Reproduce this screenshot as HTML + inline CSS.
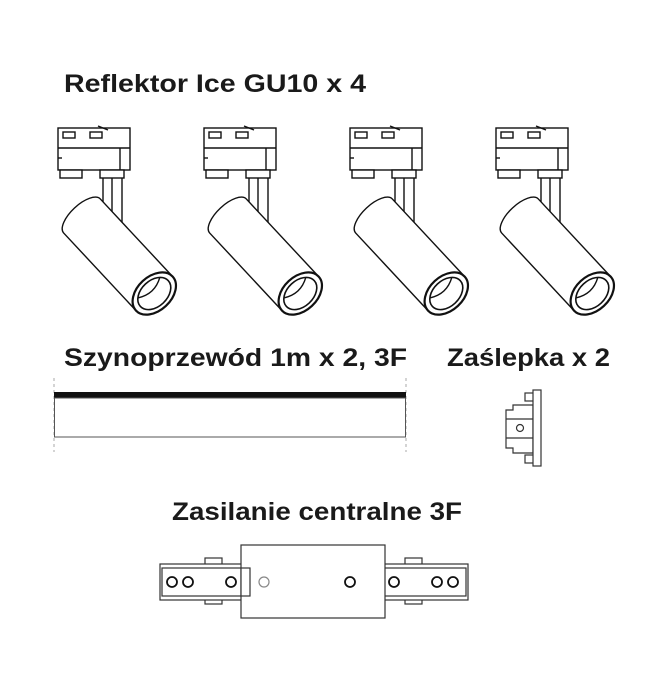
<!DOCTYPE html>
<html><head><meta charset="utf-8"><style>
html,body{margin:0;padding:0;background:#fff;}
svg{display:block;}
text{font-family:"Liberation Sans",sans-serif;font-weight:bold;fill:#1a1a1a;font-size:25px;}
</style></head><body>
<svg width="650" height="677" viewBox="0 0 650 677" xmlns="http://www.w3.org/2000/svg">
<defs>
<g id="spot" fill="#fff" stroke="#111" stroke-width="1.4">
  <rect x="103" y="176" width="19" height="52"/>
  <line x1="112" y1="176" x2="112" y2="226"/>
  <rect x="58" y="128" width="72" height="42"/>
  <line x1="58" y1="148" x2="130" y2="148"/>
  <line x1="120" y1="148" x2="120" y2="170"/>
  <line x1="58" y1="158" x2="62" y2="158"/>
  <rect x="63" y="132" width="12" height="6"/>
  <rect x="90" y="132" width="12" height="6"/>
  <line x1="98" y1="126" x2="108" y2="130"/>
  <rect x="60" y="170" width="22" height="8"/>
  <rect x="100" y="170" width="24" height="8"/>
  <g transform="translate(82,216) rotate(47)">
    <path d="M0 -25 H106 V25 H0 A11 25 0 0 1 0 -25 Z"/>
    <ellipse cx="106" cy="0" rx="17" ry="25" stroke-width="2.2"/>
    <ellipse cx="106" cy="0" rx="13" ry="19" stroke-width="1.6"/>
    <path d="M98 -15 Q107 0 98 15" fill="none"/>
  </g>
</g>
</defs>
<text x="64" y="92" textLength="302" lengthAdjust="spacingAndGlyphs">Reflektor Ice GU10 x 4</text>
<use href="#spot"/>
<use href="#spot" x="146"/>
<use href="#spot" x="292"/>
<use href="#spot" x="438"/>

<text x="64" y="366" textLength="343" lengthAdjust="spacingAndGlyphs">Szynoprzewód 1m x 2, 3F</text>
<text x="447" y="366" textLength="163" lengthAdjust="spacingAndGlyphs">Zaślepka x 2</text>
<line x1="54" y1="378" x2="54" y2="452" stroke="#aaa" stroke-dasharray="3,3"/>
<line x1="406" y1="378" x2="406" y2="452" stroke="#aaa" stroke-dasharray="3,3"/>
<rect x="54" y="392" width="352" height="6" fill="#111"/>
<rect x="54.5" y="398" width="351" height="39" fill="#fff" stroke="#555"/>
<g fill="#fff" stroke="#333" stroke-width="1.2">
  <rect x="525" y="393" width="10" height="8"/>
  <rect x="525" y="455" width="10" height="8"/>
  <path d="M506 410 H513 V405 H533 V453 H513 V448 H506 Z"/>
  <line x1="506" y1="419" x2="533" y2="419"/>
  <line x1="506" y1="438" x2="533" y2="438"/>
  <circle cx="520" cy="428" r="3.5"/>
  <rect x="533" y="390" width="8" height="76"/>
</g>
<text x="172" y="520" textLength="290" lengthAdjust="spacingAndGlyphs">Zasilanie centralne 3F</text>
<g fill="#fff" stroke="#333" stroke-width="1.2">
  <rect x="205" y="558" width="17" height="8"/>
  <rect x="205" y="596" width="17" height="8"/>
  <rect x="405" y="558" width="17" height="8"/>
  <rect x="405" y="596" width="17" height="8"/>
  <rect x="160" y="564" width="90" height="36"/>
  <rect x="162" y="568" width="86" height="28"/>
  <rect x="378" y="564" width="90" height="36"/>
  <rect x="380" y="568" width="86" height="28"/>
  <rect x="241" y="545" width="144" height="73"/>
  <rect x="241" y="568" width="9" height="28"/>
  <g stroke="#111" stroke-width="1.8">
    <circle cx="172" cy="582" r="5"/><circle cx="188" cy="582" r="5"/><circle cx="231" cy="582" r="5"/>
    <circle cx="350" cy="582" r="5"/>
    <circle cx="394" cy="582" r="5"/><circle cx="437" cy="582" r="5"/><circle cx="453" cy="582" r="5"/>
  </g>
  <circle cx="264" cy="582" r="5" stroke="#888"/>
</g>
</svg>
</body></html>
